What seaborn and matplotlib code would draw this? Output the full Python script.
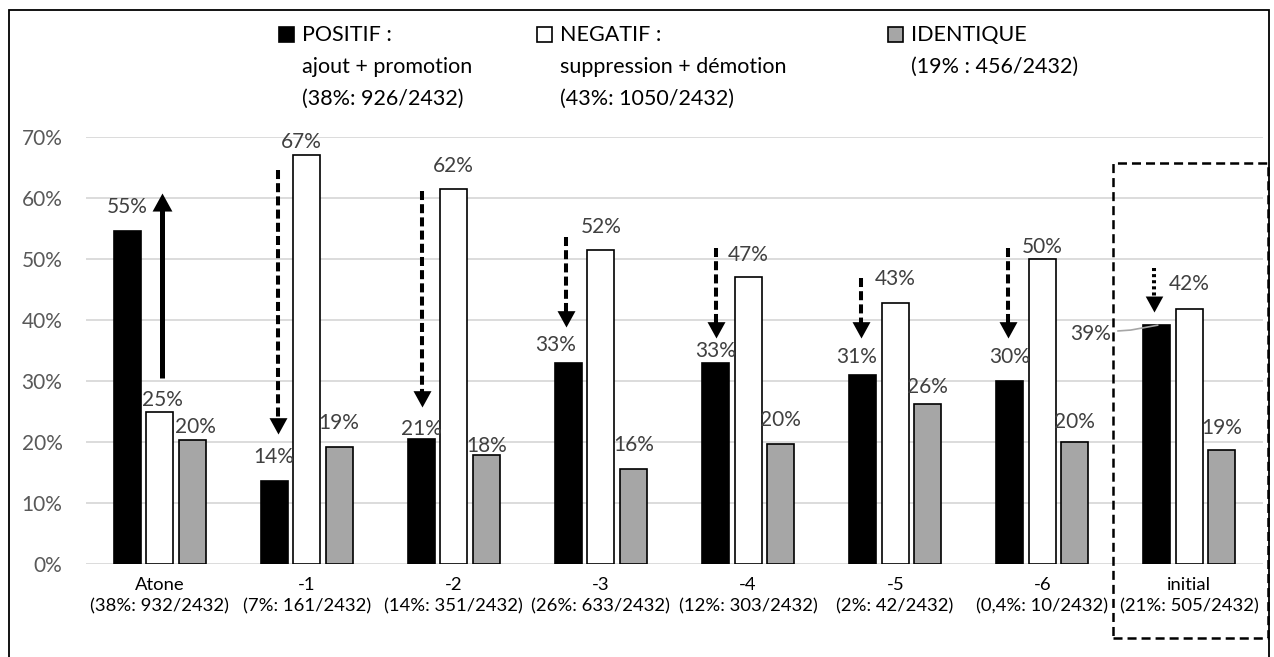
import numpy as np
import pandas as pd
import matplotlib
matplotlib.use("Agg")
import matplotlib.pyplot as plt
from matplotlib.patches import Rectangle
from matplotlib.path import Path
import seaborn as sns

# --- Data ---
categories = [
    "Atone\n(38%: 932/2432)",
    "-1\n(7%: 161/2432)",
    "-2\n(14%: 351/2432)",
    "-3\n(26%: 633/2432)",
    "-4\n(12%: 303/2432)",
    "-5\n(2%: 42/2432)",
    "-6\n(0,4%: 10/2432)",
    "initial\n(21%: 505/2432)",
]
series = ["POSITIF", "NEGATIF", "IDENTIQUE"]
positif = [54.6, 13.6, 20.6, 33.0, 33.0, 31.0, 30.1, 39.3]
negatif = [25.0, 67.1, 61.6, 51.6, 47.1, 42.8, 50.1, 41.9]
identique = [20.4, 19.3, 17.9, 15.6, 19.7, 26.3, 20.0, 18.8]

legend_lines = [
    ["POSITIF :", "ajout + promotion", "(38%: 926/2432)"],
    ["NEGATIF :", "suppression + démotion", "(43%: 1050/2432)"],
    ["IDENTIQUE", "(19% : 456/2432)"],
]

# arrows: category, x shift, start %, tip %, style
arrow_cat = [0, 1, 2, 3, 4, 5, 6, 7]
arrow_shift = [0.016, -0.195, -0.215, -0.235, -0.22, -0.235, -0.235, -0.24]
arrow_start = [30.5, 64.6, 61.2, 53.7, 51.9, 46.9, 51.9, 48.6]
arrow_tip = [60.8, 21.4, 25.8, 38.9, 37.1, 37.1, 37.1, 41.4]
arrow_style = ["solid"] + ["dashed"] * 6 + ["dotted"]

# label nudges in pixels (dx, dy above bar top)
label_dy = [
    [18, 18, 4, 12, 6, 12, 18, -15],
    [6, 7, 17, 17, 16, 18, 6, 19],
    [7, 18, 3, 18, 18, 11, 14, 16],
]
label_dx = [
    [0, 0, 0, -13, 0, -6, 0, -66],
    [3, -5, 0, 0, 0, 0, 0, 0],
    [3, 0, 0, 0, 0, 0, 0, 0],
]

df = pd.DataFrame({
    "cat": categories * 3,
    "serie": [s for s in series for _ in categories],
    "val": positif + negatif + identique,
})

# --- Style ---
sns.set_style("white")
plt.rcParams["font.family"] = ["Lato", "DejaVu Sans"]
plt.rcParams["lines.scale_dashes"] = False

W, H = 1274, 657
fig = plt.figure(figsize=(W / 100, H / 100), dpi=100)
ax_left, ax_right, ax_top, ax_bot = 86, 1263, 137.3, 564.3
ax = fig.add_axes([ax_left / W, 1 - ax_bot / H, (ax_right - ax_left) / W, (ax_bot - ax_top) / H])

sns.barplot(data=df, x="cat", y="val", hue="serie", order=categories, hue_order=series,
            palette=["black", "white", "#A6A6A6"], saturation=1,
            edgecolor="black", linewidth=1.2, width=0.663, gap=0.17,
            legend=False, ax=ax)

ax.set_xlim(-0.5, 7.5)
ax.set_ylim(0, 70)
ax.set_yticks(np.arange(0, 71, 10))
ax.set_yticklabels([f"{v}%" for v in range(0, 71, 10)])
ax.set_xlabel("")
ax.set_ylabel("")
ax.yaxis.grid(True, color="#D9D9D9", lw=1.3)
ax.set_axisbelow(True)
for sp in ax.spines.values():
    sp.set_visible(False)
ax.tick_params(axis="y", length=0, pad=17, labelsize=15, labelcolor="#595959")
ax.tick_params(axis="x", length=0, pad=9, labelsize=13.3, labelcolor="black")
for lbl in ax.get_xticklabels():
    lbl.set_linespacing(1.45)

# --- Data labels ---
for i, cont in enumerate(ax.containers):
    for j, bar in enumerate(cont):
        h = bar.get_height()
        xc = bar.get_x() + bar.get_width() / 2
        ax.annotate(f"{h:.0f}%", xy=(xc, h), xytext=(label_dx[i][j], label_dy[i][j]),
                    textcoords="offset pixels", ha="center", va="baseline",
                    fontsize=15, color="#404040", annotation_clip=False)

# leader line for the "initial" positive label
ax.plot([6.513, 6.601, 6.785], [38.25, 38.4, 39.2], color="#A6A6A6", lw=1.2)

# --- Arrows: shaft as a line, head as a marker whose tip is the anchor point ---
codes = [Path.MOVETO, Path.LINETO, Path.LINETO, Path.CLOSEPOLY]
head_down = Path([(0, 0), (-0.55, 1), (0.55, 1), (0, 0)], codes)
head_up = Path([(0, 0), (-0.55, -1), (0.55, -1), (0, 0)], codes)
for c, dx, y0, y1, st in zip(arrow_cat, arrow_shift, arrow_start, arrow_tip, arrow_style):
    x = c + dx
    if st == "solid":
        ls, lw, ms = "-", 3.6, 26
    elif st == "dashed":
        ls, lw, ms = (0, (6.5, 3.0)), 2.9, 23.5
    else:
        ls, lw, ms = (0, (2.2, 2.2)), 2.9, 23
    up = y1 > y0
    end = y1 - 1.5 if up else y1 + 1.5
    ax.plot([x, x], [y0, end], color="black", lw=lw, linestyle=ls,
            solid_capstyle="butt", dash_capstyle="butt")
    ax.plot([x], [y1], marker=head_up if up else head_down, ms=ms,
            color="black", markeredgewidth=0, linestyle="none")

# --- Dashed box around "initial" ---
ax.add_patch(Rectangle((6.479, -12.1), 7.533 - 6.479, 65.8 + 12.1, fill=False,
                       edgecolor="black", lw=1.8, linestyle=(0, (6.5, 3.6)), clip_on=False))

# --- Legend (drawn by hand, multi-line entries) ---
sq_x = [279, 537, 888]
colors = ["black", "white", "#A6A6A6"]
for k, lines in enumerate(legend_lines):
    x0 = sq_x[k]
    fig.add_artist(Rectangle((x0 / W, 1 - 42 / H), 15 / W, 15 / H, transform=fig.transFigure,
                             facecolor=colors[k], edgecolor="black", lw=1.2))
    for n, txt in enumerate(lines):
        fig.text((x0 + 23) / W, 1 - (41 + 32 * n) / H, txt, fontsize=15.5,
                 color="black", ha="left", va="baseline")

# outer frame
fig.add_artist(Rectangle((9 / W, -0.05), (1269 - 9) / W, 1.05 - 10 / H,
                         transform=fig.transFigure, fill=False, edgecolor="black", lw=1.3))

plt.savefig("out.png", dpi=100)
